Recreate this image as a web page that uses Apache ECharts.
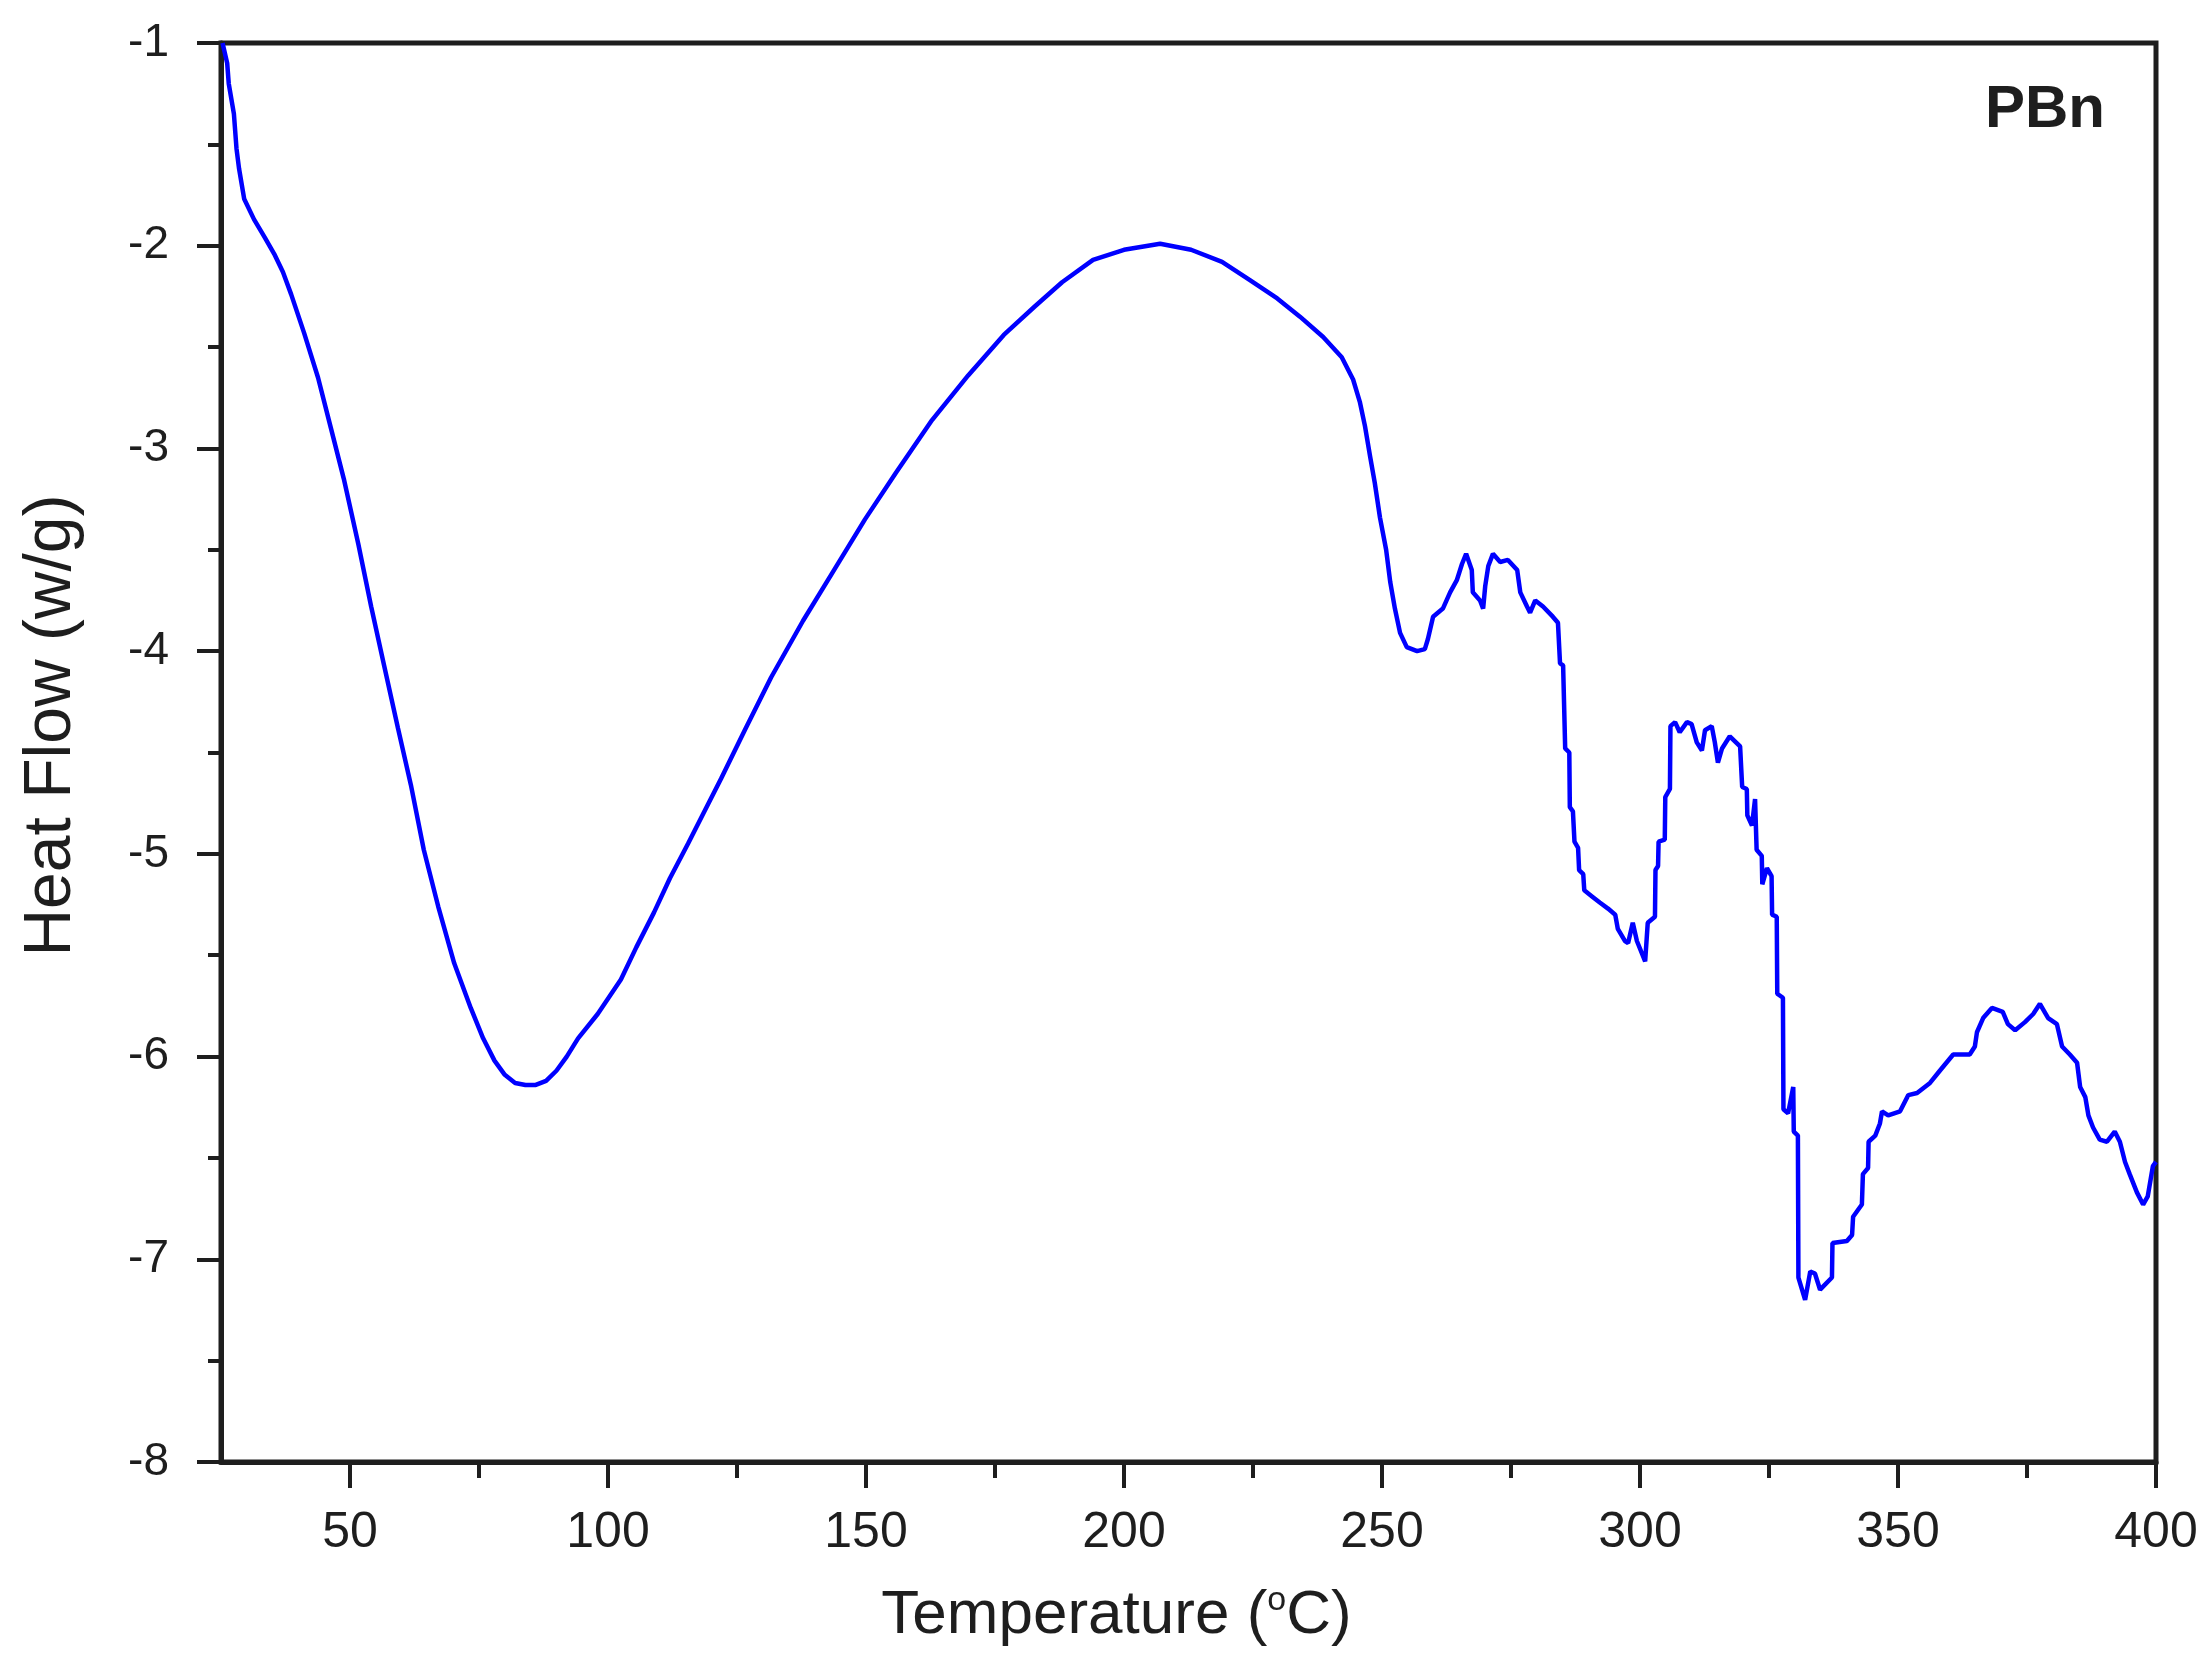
<!DOCTYPE html>
<html>
<head>
<meta charset="utf-8">
<script src="https://cdn.jsdelivr.net/npm/echarts@6/dist/echarts.min.js"></script>
<style>
html,body{margin:0;padding:0;background:#fff;}
#chart{width:2208px;height:1669px;}
</style>
</head>
<body>
<div id="chart"></div>
<script>
// Temperature (°C)
var temps = [25.3,26.2,26.5,27.5,28.0,28.5,29.5,31.4,33.5,35.3,37.0,38.6,41.1,43.8,46.3,48.8,51.6,54.1,56.6,59.3,61.8,64.3,67.1,70.2,73.4,75.8,78.0,80.0,82.0,84.0,86.0,88.0,90.0,92.0,94.2,98.0,102.5,105.5,108.9,112.0,115.5,118.5,121.9,126.5,131.6,137.8,143.8,149.8,155.8,162.8,169.8,176.7,182.7,188.0,194.0,200.0,207.0,213.0,219.0,224.4,229.7,234.1,238.6,242.2,244.4,245.7,246.7,247.7,248.6,249.6,250.8,251.6,252.5,253.5,254.8,256.8,258.3,258.9,259.9,261.8,263.2,264.5,265.5,266.3,267.4,267.6,269.0,269.6,270.0,270.6,271.5,272.9,274.4,276.2,276.8,278.1,278.7,279.7,281.2,283.1,284.1,284.5,285.1,285.5,286.3,286.4,287.0,287.3,288.0,288.2,289.0,289.2,290.7,292.2,293.8,295.2,295.7,297.1,297.7,298.6,299.4,301.0,301.5,302.9,303.0,303.5,303.6,304.8,304.9,305.8,305.9,306.8,307.7,309.1,310.0,311.0,312.0,312.6,313.9,314.5,315.1,315.9,317.4,319.4,319.8,320.7,320.8,321.7,322.3,322.6,323.6,323.7,324.6,325.5,325.6,326.5,326.6,327.7,327.8,328.7,329.7,329.8,330.6,330.7,332.0,333.0,333.9,334.9,337.2,337.3,340.1,341.1,341.3,343.0,343.2,344.2,344.3,345.6,346.5,346.9,348.1,350.4,352.0,353.7,356.2,358.1,360.7,363.9,364.9,365.3,366.5,368.2,370.3,371.3,372.7,374.6,376.2,377.5,379.1,380.8,381.8,383.3,384.7,385.3,386.3,386.9,387.8,389.1,390.5,392.0,393.0,394.0,394.9,396.3,397.5,398.4,399.4,400.0];
// Heat Flow (w/g)
var heatFlow = [-1.00,-1.10,-1.20,-1.35,-1.52,-1.62,-1.77,-1.87,-1.96,-2.04,-2.13,-2.24,-2.43,-2.65,-2.90,-3.15,-3.47,-3.78,-4.07,-4.38,-4.66,-4.98,-5.26,-5.54,-5.76,-5.91,-6.02,-6.09,-6.13,-6.14,-6.14,-6.12,-6.07,-6.00,-5.91,-5.79,-5.62,-5.46,-5.29,-5.12,-4.95,-4.80,-4.63,-4.39,-4.13,-3.85,-3.60,-3.35,-3.12,-2.86,-2.64,-2.44,-2.30,-2.18,-2.07,-2.02,-1.99,-2.02,-2.08,-2.17,-2.26,-2.35,-2.45,-2.55,-2.66,-2.77,-2.89,-3.04,-3.17,-3.34,-3.50,-3.66,-3.79,-3.91,-3.98,-4.00,-3.99,-3.94,-3.83,-3.79,-3.71,-3.65,-3.57,-3.52,-3.60,-3.71,-3.75,-3.79,-3.68,-3.58,-3.52,-3.56,-3.55,-3.60,-3.71,-3.78,-3.81,-3.75,-3.78,-3.83,-3.86,-4.06,-4.07,-4.48,-4.50,-4.77,-4.79,-4.94,-4.97,-5.08,-5.10,-5.18,-5.21,-5.24,-5.27,-5.30,-5.37,-5.43,-5.44,-5.34,-5.43,-5.53,-5.34,-5.31,-5.08,-5.06,-4.94,-4.93,-4.72,-4.68,-4.37,-4.35,-4.40,-4.35,-4.36,-4.45,-4.49,-4.39,-4.37,-4.45,-4.55,-4.48,-4.42,-4.47,-4.67,-4.68,-4.81,-4.86,-4.73,-4.98,-5.01,-5.15,-5.07,-5.11,-5.30,-5.31,-5.69,-5.71,-6.26,-6.28,-6.15,-6.37,-6.39,-7.09,-7.20,-7.06,-7.07,-7.15,-7.09,-6.92,-6.91,-6.88,-6.79,-6.73,-6.58,-6.55,-6.42,-6.39,-6.33,-6.27,-6.29,-6.27,-6.19,-6.18,-6.13,-6.07,-5.99,-5.99,-5.95,-5.88,-5.81,-5.76,-5.78,-5.84,-5.87,-5.83,-5.79,-5.74,-5.81,-5.84,-5.95,-5.99,-6.03,-6.15,-6.20,-6.29,-6.35,-6.41,-6.42,-6.37,-6.42,-6.52,-6.58,-6.67,-6.73,-6.69,-6.54,-6.52];
var xMajorTicks = [50,100,150,200,250,300,350,400];
var xMinorTicks = [75,125,175,225,275,325,375];
var sampleLabel = 'PBn';

var FONT = '"Liberation Sans", Arial, Helvetica, sans-serif';
var INK = '#1e1e1e';
var data = temps.map(function(t, i){ return [t, heatFlow[i]]; });

var chart = echarts.init(document.getElementById('chart'), null, {renderer:'canvas'});
chart.setOption({
  backgroundColor: '#ffffff',
  animation: false,
  grid: {left: 221, right: 52, top: 43, bottom: 207, show: true, borderColor: INK, borderWidth: 5, backgroundColor: 'transparent'},
  xAxis: [{
    type: 'value', min: 25, max: 400, position: 'bottom',
    axisLine: {show: true, lineStyle: {color: INK, width: 5}},
    axisTick: {show: true, length: 26, lineStyle: {color: INK, width: 4}, customValues: xMajorTicks},
    axisLabel: {show: true, margin: 46, fontSize: 50, color: INK, fontFamily: FONT, customValues: xMajorTicks},
    splitLine: {show: false},
    name: 'Temperature ({s|o}C)',
    nameLocation: 'middle', nameGap: 122,
    nameTextStyle: {fontSize: 62, color: INK, fontFamily: FONT, padding: [0, 144, 0, 0],
      rich: {s: {fontSize: 34, color: INK, fontFamily: FONT, verticalAlign: 'top', padding: [0, 0, 30, 0]}}}
  }, {
    type: 'value', min: 25, max: 400, position: 'bottom', gridIndex: 0,
    axisLine: {show: false},
    axisTick: {show: true, length: 16, lineStyle: {color: INK, width: 4}, customValues: xMinorTicks},
    axisLabel: {show: false},
    splitLine: {show: false}
  }],
  yAxis: {
    type: 'value', min: -8, max: -1, interval: 1,
    axisLine: {show: true, lineStyle: {color: INK, width: 5}},
    axisTick: {show: true, length: 24, lineStyle: {color: INK, width: 4}},
    minorTick: {show: true, splitNumber: 2, length: 13, lineStyle: {color: INK, width: 4}},
    axisLabel: {show: true, margin: 52, fontSize: 46, color: INK, fontFamily: FONT},
    splitLine: {show: false},
    minorSplitLine: {show: false},
    name: 'Heat Flow (w/g)',
    nameLocation: 'middle', nameGap: 136,
    nameTextStyle: {fontSize: 66, color: INK, fontFamily: FONT, padding: [0, 0, 0, 54]}
  },
  graphic: [{
    type: 'text', right: 103, top: 80,
    style: {text: sampleLabel, fontSize: 60, fontWeight: 'bold', fill: INK, fontFamily: FONT}
  }],
  series: [{
    type: 'line', xAxisIndex: 0, yAxisIndex: 0,
    data: data, showSymbol: false, smooth: false,
    lineStyle: {color: '#0000ff', width: 4.5},
    clip: true
  }]
});
</script>
</body>
</html>
